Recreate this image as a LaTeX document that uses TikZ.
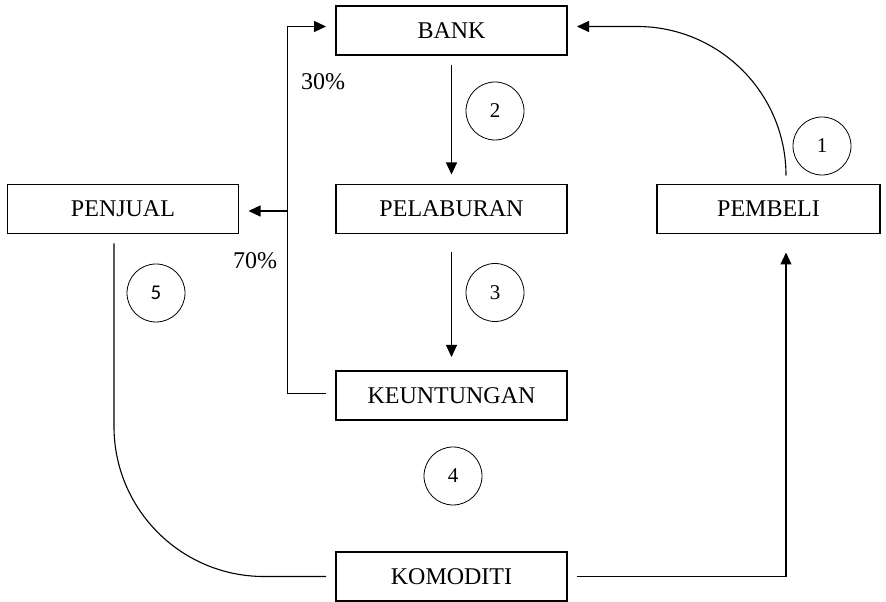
\documentclass[tikz,border=0pt]{standalone}
\usepackage{fontspec}
\setmainfont{Liberation Serif}
\newfontfamily\angkasans{Carlito}
\usepackage{tikz}
\usetikzlibrary{arrows.meta}

\tikzset{
	kotak/.style={draw, line width=1.2pt, minimum width=231pt, minimum height=49pt, inner sep=0pt, outer sep=10pt, font=\fontsize{24}{28}\selectfont},
	bulat/.style={draw, circle, line width=0.8pt, minimum size=58pt, inner sep=0pt, font=\fontsize{21}{24}\selectfont},
	panah/.style={-{Triangle[length=12pt,width=11pt]}, line width=1.1pt},
	garis/.style={line width=1.1pt},
	peratus/.style={font=\fontsize{24}{28}\selectfont}
}

\begin{document}
\begin{tikzpicture}[x=1pt,y=1pt]
	\useasboundingbox (0,0) rectangle (886,602);

	% Draw boxes
	\node[kotak] (bank) at (451.5,571.5) {BANK};
	\node[kotak] (penjual) at (123,393) {PENJUAL};
	\node[kotak] (pelaburan) at (451.5,393) {PELABURAN};
	\node[kotak, minimum width=223pt] (pembeli) at (768.5,393) {PEMBELI};
	\node[kotak] (keuntungan) at (451.5,206.5) {KEUNTUNGAN};
	\node[kotak] (komoditi) at (451.5,25.5) {KOMODITI};

	% Step numbers
	\node[bulat] (n1) at (822,456) {1};
	\node[bulat] (n2) at (495,491) {2};
	\node[bulat] (n3) at (495,309.5) {3};
	\node[bulat] (n4) at (453,126) {4};
	\node[bulat, font=\angkasans\fontsize{21}{24}\selectfont] (n5) at (156,309) {5};

	% Pembeli pays to bank
	\draw[panah, rounded corners=149pt] ([xshift=17.5pt]pembeli.north) |- ([yshift=4pt]bank.east);

	% Bank to pelaburan to keuntungan
	\draw[panah] (bank.south) -- (pelaburan.north);
	\draw[panah, shorten <=9pt] (pelaburan.south) -- ([yshift=4pt]keuntungan.north);

	% Keuntungan split: 30% and 70%
	\coordinate (cabang) at ([xshift=39pt,yshift=-2pt]penjual.east);
	\draw[garis] ([yshift=2pt]keuntungan.west) -| (cabang);
	\draw[panah] (cabang) -- ([yshift=-2pt]penjual.east);
	\draw[panah] (cabang) |- ([yshift=4pt]bank.west);
	\node[peratus] (tiga) at (323,520) {30\%};
	\node[peratus] (tujuh) at (255,341) {70\%};

	% Penjual to komoditi
	\draw[garis, rounded corners=150pt] ([xshift=-9pt]penjual.south) |- (komoditi.west);

	% Komoditi to pembeli
	\draw[panah] (komoditi.east) -| ([xshift=17.5pt,yshift=-9pt]pembeli.south);

\end{tikzpicture}
\end{document}
